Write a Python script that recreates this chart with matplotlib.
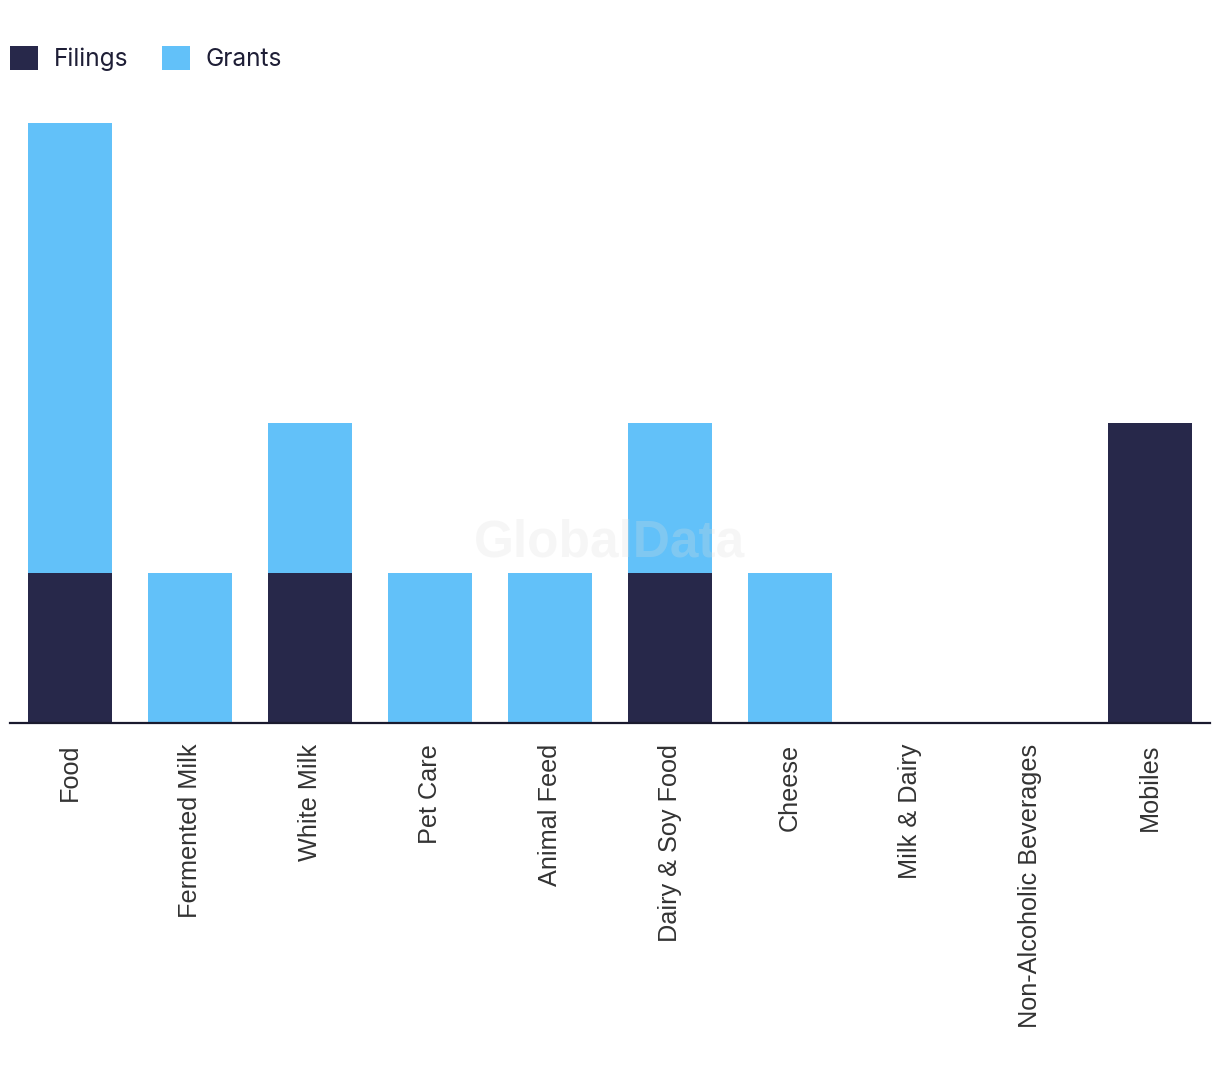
import matplotlib.pyplot as plt
import numpy as np

categories = ['Food', 'Fermented Milk', 'White Milk', 'Pet Care', 'Animal Feed',
              'Dairy & Soy Food', 'Cheese', 'Milk & Dairy', 'Non-Alcoholic Beverages', 'Mobiles']
filings = [1, 0, 1, 0, 0, 1, 0, 0, 0, 2]
grants = [3, 1, 1, 1, 1, 1, 1, 0, 0, 0]

navy = '#27284a'
blue = '#62c1f9'

fig = plt.figure(figsize=(12.2, 10.78), dpi=100)
ax = fig.add_axes([10/1220, 1 - 723/1078, 1200/1220, 600/1078])

x = np.arange(len(categories))
ax.bar(x, filings, width=0.7, color=navy, label='Filings')
ax.bar(x, grants, width=0.7, bottom=filings, color=blue, label='Grants')

ax.set_xlim(-0.5, len(categories) - 0.5)
ax.set_ylim(0, 4)
ax.set_yticks([])
for s in ['top', 'right', 'left']:
    ax.spines[s].set_visible(False)
ax.spines['bottom'].set_color('#1a1a2e')
ax.spines['bottom'].set_linewidth(1.6)

ax.set_xticks(x)
ax.set_xticklabels(categories, rotation=90, fontsize=18.2, color='#333333',
                   family=['Liberation Sans', 'DejaVu Sans'], va='top')
ax.tick_params(axis='x', length=0, pad=15)

# watermark
ax.text(0.5, 0.3, 'GlobalData', transform=ax.transAxes, ha='center', va='center',
        fontsize=37, fontweight='bold', color='#dddddd', alpha=0.25,
        family=['Liberation Sans', 'DejaVu Sans'], zorder=5)

fig.legend(loc='upper left', bbox_to_anchor=(10/1220, 1 - 46/1078), frameon=False,
           ncol=2, handlelength=1.15, handleheight=1.15,
           handletextpad=0.65, columnspacing=1.35, borderpad=0, borderaxespad=0,
           prop={'family': ['Inter', 'DejaVu Sans'], 'size': 17.6},
           labelcolor='#1e1e36')

fig.savefig('out.png', dpi=100)
